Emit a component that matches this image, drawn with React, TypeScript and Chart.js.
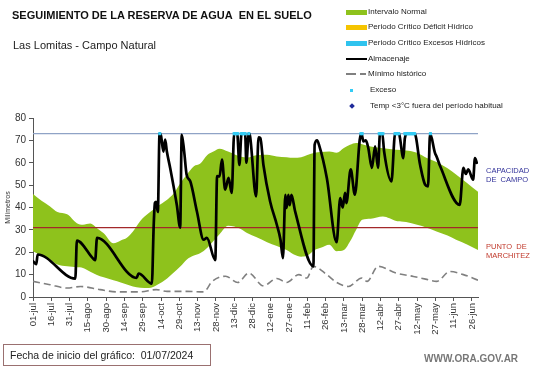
import React, { useEffect, useRef } from "react";
import { Chart, registerables } from "chart.js";
Chart.register(...registerables);

const FONT = "'Liberation Sans', Arial, sans-serif";

const xTickLabels = [
  "01-jul", "16-jul", "31-jul", "15-ago", "30-ago", "14-sep", "29-sep", "14-oct", "29-oct",
  "13-nov", "28-nov", "13-dic", "28-dic", "12-ene", "27-ene", "11-feb", "26-feb", "13-mar",
  "28-mar", "12-abr", "27-abr", "12-may", "27-may", "11-jun", "26-jun",
];

const capacidadCampo = 73;
const puntoMarchitez = 31;

const bandDays = [0, 7, 14, 20, 28, 36, 41, 47, 52, 58, 66, 72, 77, 82, 88, 95, 102, 110, 115, 121, 126, 132, 137, 143, 148, 153, 160, 165, 170, 176, 183, 192, 200, 208, 214, 220, 225, 231, 236, 243, 249, 255, 260, 265, 270, 277, 287, 298, 306, 315, 323, 331, 340, 347, 356, 365];
const bandUpper = [46, 43, 40.5, 38, 37, 33, 32.3, 32.8, 31, 28.5, 24, 25.3, 26.5, 29.3, 34, 37.5, 40.5, 43.5, 46, 51, 54.5, 58.4, 59.5, 63.5, 65, 66.3, 65, 63.8, 62.8, 62.3, 63.3, 63.6, 62.8, 62.5, 62.2, 62.5, 63.5, 64.5, 64.8, 65, 64.5, 66.6, 68, 68.8, 68.3, 67.3, 66.5, 65.8, 65.5, 64.5, 62.1, 60.3, 57.5, 54.8, 51, 47];
const bandLower = [20.5, 18.5, 16.7, 14.5, 13.7, 13.3, 13, 11.3, 10, 8.8, 7.5, 6.5, 5.6, 4.7, 4.1, 4, 5.5, 8.3, 10.7, 13.7, 16.7, 18.5, 19.5, 22, 25, 28, 31.8, 31.5, 30.5, 28.5, 26.8, 24.5, 22.8, 21, 19, 18, 18.5, 21, 22, 23.4, 20.5, 21, 24.8, 30, 34.5, 35, 36, 34, 33.5, 32.3, 31, 29.3, 27.5, 25.6, 23.5, 21];

const almDays = [0, 2.7, 3.8, 34.7, 36, 50, 51, 52.5, 85, 86.6, 97.5, 99, 100, 101, 102.4, 103.8, 105, 107, 108.4, 109.8, 112.5, 118, 120.7, 122, 124, 126, 129, 134.4, 140, 142.6, 149.5, 151, 153, 155, 157.6, 160.4, 163, 165, 167.5, 169.3, 171, 174, 175, 177, 178, 183, 185, 186.5, 189, 194.5, 200, 203, 205, 207, 208, 209.5, 210.5, 212, 215, 230, 231, 233, 234.6, 241, 249, 252, 254, 256, 257, 260.6, 264, 268, 269.4, 271, 273, 275, 278, 280.6, 283, 284.6, 286.5, 288, 294, 297, 300, 303.8, 305, 307, 313, 317.5, 321.6, 324, 325.7, 329.7, 331, 334, 350, 353, 355, 357, 361, 362.5, 364];
const almValues = [16, 14.7, 19, 8.2, 25.2, 16.8, 16.5, 26.4, 8.5, 10.5, 6, 32, 42, 42.5, 38, 73, 72, 65, 70.3, 65, 57.7, 41, 31, 72.5, 65, 54.7, 51.7, 38.3, 25.6, 26.4, 16.5, 54, 53.9, 61.4, 48, 53.2, 46.5, 73, 73, 59, 73, 73, 60, 73, 72, 45, 71.3, 71, 59, 42.7, 32.3, 25.6, 17.4, 45.7, 39.8, 45.7, 41, 45.7, 38.3, 13.7, 68, 70, 68, 53.2, 24.5, 44.2, 40, 46.5, 42, 57, 45.7, 70.3, 73, 69.5, 70, 66.6, 57.7, 67.3, 57.7, 73, 73, 65, 51.7, 73, 73, 62.1, 71, 73, 73, 59.1, 50.2, 49.4, 73, 64.4, 62.8, 58.4, 41.2, 57.7, 55, 57, 52.4, 62.1, 60];

const minDays = [0, 14, 28, 39, 55, 69, 88, 101, 110, 126, 140, 147, 158, 168, 177, 189, 200, 208, 218, 224.6, 230, 241, 249, 258.7, 269.7, 274, 283, 298, 312, 322, 331, 342, 353, 365];
const minValues = [7, 5.5, 4, 4.7, 3.3, 2.3, 2.3, 3.3, 2.5, 2.5, 2.3, 7, 9.3, 6.5, 10.7, 5, 8.3, 6.5, 10, 8.5, 13.7, 10, 6.5, 4.7, 8.5, 7, 13.7, 10.7, 9.2, 8, 7, 11.4, 10, 7.5];

const excesoDays = [104, 165, 166, 167, 168, 171, 172, 173, 174, 177, 269, 270, 284, 285, 286, 287, 297, 298, 299, 300, 305, 306, 307, 308, 309, 310, 311, 312, 313, 326];

const pts = (xs: number[], ys: number[]) => xs.map((x, i) => ({ x, y: ys[i] }));

const GREEN = "#8ec21c";

export default function App() {
  const ref = useRef<HTMLCanvasElement | null>(null);
  useEffect(() => {
    if (!ref.current) return;
    const chart = new Chart(ref.current, {
      type: "line",
      data: {
        datasets: [
          {
            data: pts(excesoDays, excesoDays.map(() => capacidadCampo)),
            showLine: false,
            pointRadius: 2.2,
            pointStyle: "rect",
            pointBackgroundColor: "#33ccf5",
            pointBorderWidth: 0,
            order: 0,
          },
          {
            data: pts(almDays, almValues),
            borderColor: "#000",
            borderWidth: 2.7,
            borderJoinStyle: "round",
            borderCapStyle: "round",
            pointRadius: 0,
            cubicInterpolationMode: "monotone",
            order: 1,
          },
          {
            data: pts(minDays, minValues),
            borderColor: "#808080",
            borderWidth: 1.6,
            borderDash: [7, 4],
            pointRadius: 0,
            cubicInterpolationMode: "monotone",
            order: 2,
          },
          {
            data: [{ x: 0, y: capacidadCampo }, { x: 365, y: capacidadCampo }],
            borderColor: "#8fa3c6",
            borderWidth: 1.2,
            pointRadius: 0,
            order: 3,
          },
          {
            data: [{ x: 0, y: puntoMarchitez }, { x: 365, y: puntoMarchitez }],
            borderColor: "#a3282a",
            borderWidth: 1.2,
            pointRadius: 0,
            order: 3,
          },
          {
            data: pts(bandDays, bandUpper),
            borderColor: GREEN,
            borderWidth: 0,
            backgroundColor: GREEN,
            pointRadius: 0,
            cubicInterpolationMode: "monotone",
            fill: "+1",
            order: 5,
          },
          {
            data: pts(bandDays, bandLower),
            borderColor: GREEN,
            borderWidth: 0,
            pointRadius: 0,
            cubicInterpolationMode: "monotone",
            fill: false,
            order: 6,
          },
        ],
      },
      options: {
        animation: false,
        responsive: false,
        devicePixelRatio: 1,
        layout: { padding: { top: 118, right: 63, left: 0, bottom: 0 } },
        plugins: { legend: { display: false }, tooltip: { enabled: false } },
        scales: {
          x: {
            type: "linear",
            min: 0,
            max: 365,
            afterBuildTicks: (s: any) => {
              s.ticks = xTickLabels.map((_, i) => ({ value: i * 15 }));
            },
            afterFit: (s: any) => {
              s.height = 71;
            },
            ticks: {
              autoSkip: false,
              minRotation: 90,
              maxRotation: 90,
              padding: 2,
              color: "#333",
              font: { family: FONT, size: 9.5 },
              callback: (v: any) => xTickLabels[Math.round(Number(v) / 15)] ?? "",
            },
            grid: { drawOnChartArea: false, tickLength: 4, color: "#555" },
            border: { color: "#555" },
          },
          y: {
            min: 0,
            max: 80,
            afterFit: (s: any) => {
              s.width = 33;
            },
            ticks: {
              stepSize: 10,
              padding: 3,
              color: "#333",
              font: { family: FONT, size: 10 },
            },
            grid: { drawOnChartArea: false, tickLength: 4, color: "#555" },
            border: { color: "#555" },
            title: {
              display: true,
              text: "Milímetros",
              color: "#333",
              font: { family: FONT, size: 7 },
              padding: { top: 4, bottom: 0 },
            },
          },
        },
      },
    });
    return () => chart.destroy();
  }, []);

  const legendItems = [
    { label: "Intervalo Normal", y: 12, kind: "bar", color: GREEN },
    { label: "Periodo Crítico Déficit Hídrico", y: 27, kind: "bar", color: "#f5c400" },
    { label: "Periodo Crítico Excesos Hídricos", y: 43, kind: "bar", color: "#2fc3ee" },
    { label: "Almacenaje", y: 59, kind: "line", color: "#000" },
    { label: "Mínimo histórico", y: 74, kind: "dash", color: "#808080" },
    { label: "Exceso", y: 90, kind: "dot", color: "#33ccf5" },
    { label: "Temp <3°C fuera del período habitual", y: 106, kind: "diamond", color: "#1f2a9a" },
  ];

  const txt: React.CSSProperties = {
    position: "absolute",
    fontFamily: FONT,
    whiteSpace: "nowrap",
    lineHeight: 1,
  };

  return (
    <div style={{ position: "absolute", left: 0, top: 0, width: 541, height: 368, background: "#fff", overflow: "hidden" }}>
      <canvas ref={ref} width={541} height={368} style={{ position: "absolute", left: 0, top: 0, width: 541, height: 368 }} />
      <div style={{ ...txt, left: 12, top: 10, fontSize: 11, fontWeight: "bold", color: "#111" }}>
        SEGUIMIENTO DE LA RESERVA DE AGUA&nbsp; EN EL SUELO
      </div>
      <div style={{ ...txt, left: 13, top: 40, fontSize: 11, color: "#222" }}>Las Lomitas - Campo Natural</div>
      {legendItems.map((it) => (
        <React.Fragment key={it.label}>
          {it.kind === "bar" && (
            <div style={{ position: "absolute", left: 346, top: it.y - 2.5, width: 21, height: 5, background: it.color }} />
          )}
          {it.kind === "line" && (
            <div style={{ position: "absolute", left: 346, top: it.y - 1, width: 21, height: 2, background: it.color }} />
          )}
          {it.kind === "dash" && (
            <>
              <div style={{ position: "absolute", left: 346, top: it.y - 0.75, width: 10, height: 1.5, background: it.color }} />
              <div style={{ position: "absolute", left: 360, top: it.y - 0.75, width: 6, height: 1.5, background: it.color }} />
            </>
          )}
          {it.kind === "dot" && (
            <div style={{ position: "absolute", left: 350, top: it.y - 1.5, width: 3, height: 3, background: it.color }} />
          )}
          {it.kind === "diamond" && (
            <div style={{ position: "absolute", left: 350, top: it.y - 2, width: 4, height: 4, background: it.color, transform: "rotate(45deg)" }} />
          )}
          <div style={{ ...txt, left: it.kind === "dot" || it.kind === "diamond" ? 370 : 368, top: it.y - 4.5, fontSize: 8, color: "#222" }}>
            {it.label}
          </div>
        </React.Fragment>
      ))}
      <div style={{ ...txt, left: 486, top: 166, fontSize: 7.5, color: "#33339a", lineHeight: "9px" }}>
        CAPACIDAD
        <br />
        DE&nbsp; CAMPO
      </div>
      <div style={{ ...txt, left: 486, top: 242, fontSize: 7.5, color: "#c0392b", lineHeight: "9px" }}>
        PUNTO&nbsp; DE
        <br />
        MARCHITEZ
      </div>
      <div
        style={{
          position: "absolute",
          left: 3,
          top: 344,
          width: 208,
          height: 22,
          border: "1px solid #9a7070",
          boxSizing: "border-box",
        }}
      />
      <div style={{ ...txt, left: 10, top: 350, fontSize: 10.5, color: "#222" }}>
        Fecha de inicio del gráfico:&nbsp;&nbsp;01/07/2024
      </div>
      <div style={{ ...txt, left: 424, top: 354, fontSize: 10, fontWeight: "bold", color: "#777" }}>WWW.ORA.GOV.AR</div>
    </div>
  );
}
